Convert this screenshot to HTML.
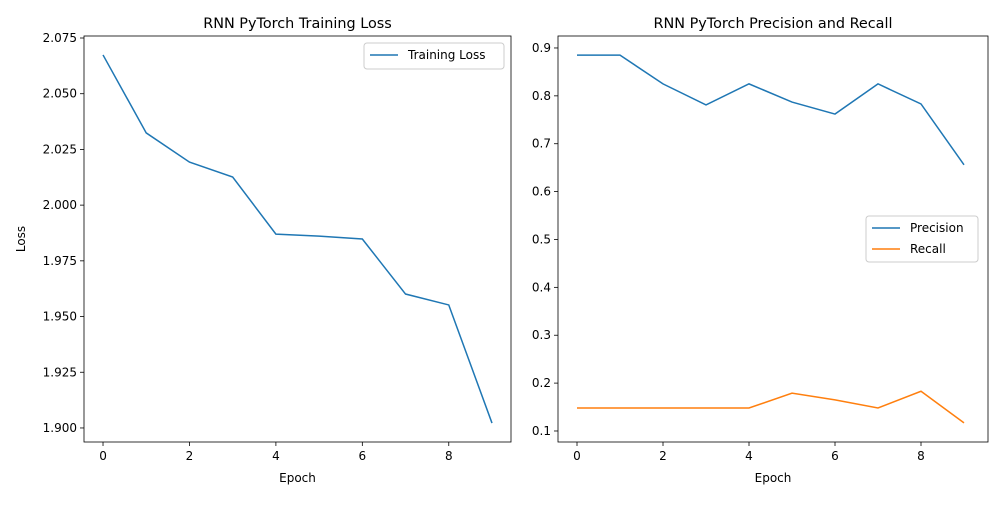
<!DOCTYPE html>
<html><head><meta charset="utf-8"><style>
body{margin:0;background:#fff;}
svg text{font-family:"DejaVu Sans","Liberation Sans",sans-serif;fill:#000;}
</style></head><body>
<svg id="chart" width="1000" height="500" viewBox="0 0 1000 500" xmlns="http://www.w3.org/2000/svg"></svg>
<script>
const epochs=[0,1,2,3,4,5,6,7,8,9];
const lossValues=[2.0674,2.0324,2.0193,2.0126,1.9870,1.9861,1.9848,1.9601,1.9552,1.9022];
const precisionValues=[0.885,0.885,0.825,0.781,0.825,0.787,0.762,0.825,0.783,0.656];
const recallValues=[0.148,0.148,0.148,0.148,0.148,0.179,0.165,0.148,0.183,0.117];
const xTicks=[0,2,4,6,8];
const lossTicks=[1.900,1.925,1.950,1.975,2.000,2.025,2.050,2.075];
const prTicks=[0.1,0.2,0.3,0.4,0.5,0.6,0.7,0.8,0.9];

const svg=document.getElementById('chart');
const NS='http://www.w3.org/2000/svg';
function mk(tag,attrs,parent){const e=document.createElementNS(NS,tag);for(const k in attrs)e.setAttribute(k,attrs[k]);(parent||svg).appendChild(e);return e;}

function panel(cfg){
  const g=mk('g',{});
  
  
  const {x0,x1,y0,y1,xmin,xmax,ymin,ymax}=cfg;
  const sx=v=>x0+(v-xmin)/(xmax-xmin)*(x1-x0);
  const sy=v=>y1-(v-ymin)/(ymax-ymin)*(y1-y0);
  xTicks.forEach(t=>{
    mk('line',{x1:sx(t),x2:sx(t),y1:y1,y2:y1+4,stroke:'#000','stroke-width':0.8},g);
    const tx=mk('text',{x:sx(t),y:y1+18,'font-size':12,'text-anchor':'middle'},g);tx.textContent=t;
    
    
  });
  cfg.yTicks.forEach(t=>{
    mk('line',{x1:x0-4,x2:x0,y1:sy(t),y2:sy(t),stroke:'#000','stroke-width':0.8},g);
    const tx=mk('text',{x:x0-7,y:sy(t)+4,'font-size':12,'text-anchor':'end'},g);tx.textContent=t.toFixed(cfg.dec);
    
    
  });
  cfg.series.forEach(s=>{
    const p=mk('polyline',{points:epochs.map((e,i)=>sx(e)+','+sy(s.values[i])).join(' '),fill:'none',stroke:s.color,'stroke-width':1.5},g);
    
    
  });
  mk('rect',{x:x0,y:y0,width:x1-x0,height:y1-y0,fill:'none',stroke:'#000','stroke-width':0.8},g);
  const t=mk('text',{x:(x0+x1)/2,y:y0-8,'font-size':14.4,'text-anchor':'middle'},g);t.textContent=cfg.title;
  
  
  const xl=mk('text',{x:(x0+x1)/2,y:482,'font-size':12,'text-anchor':'middle'},g);xl.textContent='Epoch';
  
  
  if(cfg.ylabel){const yl=mk('text',{x:0,y:0,'font-size':12,'text-anchor':'middle',transform:`translate(25,${(y0+y1)/2}) rotate(-90)`},g);yl.textContent=cfg.ylabel;
    
    }
  const L=cfg.legend;
  const lg=mk('g',{},g);
  
  
  mk('rect',{x:L.x,y:L.y,width:L.w,height:6+cfg.series.length*20,fill:'#fff',stroke:'#ccc',rx:3},lg);
  cfg.series.forEach((s,i)=>{
    const yy=L.y+12+i*21;
    mk('line',{x1:L.x+6,x2:L.x+34,y1:yy,y2:yy,stroke:s.color,'stroke-width':1.5},lg);
    const lt=mk('text',{x:L.x+44,y:yy+4,'font-size':12},lg);lt.textContent=s.label;
    
    
  });
}
panel({name:'training-loss-chart',x0:84,x1:511,y0:36,y1:442,xmin:-0.44,xmax:9.44,ymin:1.8937,ymax:2.0759,
  yTicks:lossTicks,dec:3,title:'RNN PyTorch Training Loss',ylabel:'Loss',
  series:[{key:'training-loss',label:'Training Loss',values:lossValues,color:'#1f77b4'}],
  legend:{x:364,y:43,w:140}});
panel({name:'precision-recall-chart',x0:558,x1:988,y0:36,y1:442,xmin:-0.442,xmax:9.558,ymin:0.077,ymax:0.925,
  yTicks:prTicks,dec:1,title:'RNN PyTorch Precision and Recall',
  series:[{key:'precision',label:'Precision',values:precisionValues,color:'#1f77b4'},
          {key:'recall',label:'Recall',values:recallValues,color:'#ff7f0e'}],
  legend:{x:866,y:216,w:112}});
</script>
</body></html>
